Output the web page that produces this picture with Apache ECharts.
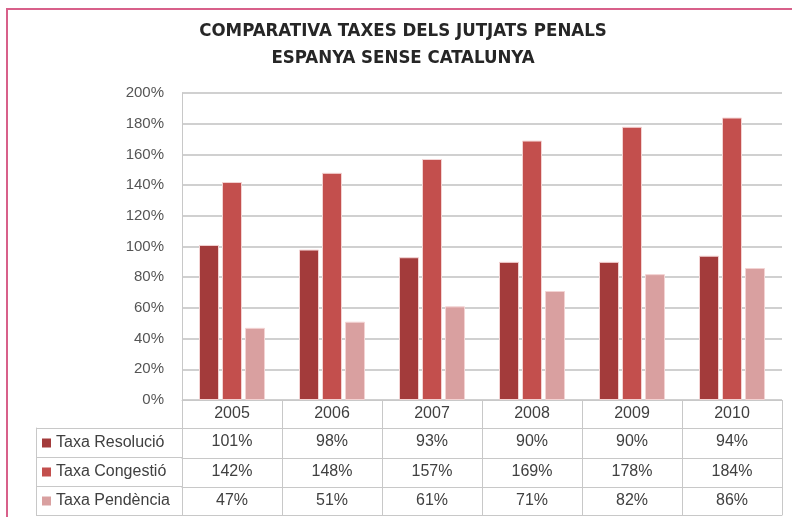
<!DOCTYPE html>
<html>
<head>
<meta charset="utf-8">
<script src="https://cdn.jsdelivr.net/npm/echarts@6/dist/echarts.min.js"></script>
<style>
  html, body { margin: 0; padding: 0; background: #fff; }
  #frame { position: absolute; left: 6px; top: 8px; width: 786px; height: 509px;
           border-top: 2px solid #d8608a; border-left: 2px solid #d8608a; box-sizing: border-box; }
  #chart { position: absolute; left: 0; top: 0; width: 792px; height: 517px; }
</style>
</head>
<body>
<div id="frame"></div>
<div id="chart"></div>
<script>
var years = ['2005', '2006', '2007', '2008', '2009', '2010'];
var seriesNames = ['Taxa Resolució', 'Taxa Congestió', 'Taxa Pendència'];
var resolucio = [101, 98, 93, 90, 90, 94];
var congestio = [142, 148, 157, 169, 178, 184];
var pendencia = [47, 51, 61, 71, 82, 86];
var colors = ['#a33b3b', '#c34f4d', '#d9a0a0'];

var font = 'Liberation Sans';
var gridCol = '#c8c8c8';
var textCol = '#404040';

var chart = echarts.init(document.getElementById('chart'));

function pct(list) {
    return list.map(function(v) { return v + '%'; });
}

// table rows under the chart, one category axis per row
function rowAxis(offset, data, tickLen, showLabel) {
    return {
        type: 'category',
        gridIndex: 0,
        position: 'bottom',
        offset: offset,
        data: data,
        axisLine: {show: true, lineStyle: {color: gridCol, width: 1}},
        axisTick: {show: tickLen > 0, length: tickLen, lineStyle: {color: gridCol}},
        axisLabel: {show: showLabel, fontFamily: font, fontSize: 16, color: textCol,
                    verticalAlign: 'middle', margin: 14},
        splitLine: {show: false}
    };
}

var option = {
    animation: false,
    title: {
        text: 'COMPARATIVA TAXES DELS JUTJATS PENALS\nESPANYA SENSE CATALUNYA',
        left: 403,
        textAlign: 'center',
        top: 18,
        padding: 0,
        textStyle: {fontFamily: 'Liberation Sans Narrow, DejaVu Sans Condensed, sans-serif',
                    fontWeight: 'bold', fontSize: 18.5, lineHeight: 27, color: '#262626'}
    },
    legend: {
        orient: 'vertical',
        left: 42,
        top: 435,
        padding: 0,
        itemWidth: 9,
        itemHeight: 9,
        itemGap: 13,
        icon: 'rect',
        selectedMode: false,
        itemStyle: {borderWidth: 0},
        textStyle: {fontFamily: font, fontSize: 16, lineHeight: 16, color: textCol},
        data: seriesNames
    },
    grid: [
        {left: 182, right: 10, top: 93, bottom: 117},
        {left: 36, width: 146, top: 428, height: 87}
    ],
    xAxis: [
        rowAxis(0, years, 28, true),
        rowAxis(28, pct(resolucio), 30, true),
        rowAxis(58, pct(congestio), 29, true),
        rowAxis(87, pct(pendencia), 28, true),
        rowAxis(115, years, 0, false),
        {type: 'value', gridIndex: 1, show: false, min: 0, max: 1}
    ],
    yAxis: [
        {
            type: 'value',
            min: 0,
            max: 200,
            interval: 20,
            axisLine: {show: true, lineStyle: {color: gridCol}},
            axisTick: {show: false},
            axisLabel: {fontFamily: font, fontSize: 15, color: '#555', margin: 18,
                        formatter: '{value}%'},
            splitLine: {lineStyle: {color: '#d0d0d0', width: 2}}
        },
        {
            type: 'category',
            gridIndex: 1,
            inverse: true,
            data: seriesNames,
            axisLine: {show: true, lineStyle: {color: gridCol}},
            axisTick: {show: false},
            axisLabel: {show: false},
            splitLine: {show: true, lineStyle: {color: gridCol}}
        }
    ],
    series: [
        {name: seriesNames[0], type: 'bar', data: resolucio, barWidth: 20, barGap: '15%',
         itemStyle: {color: colors[0], borderColor: '#f3d3d3', borderWidth: 1}},
        {name: seriesNames[1], type: 'bar', data: congestio, barWidth: 20, barGap: '15%',
         itemStyle: {color: colors[1], borderColor: '#f3d3d3', borderWidth: 1}},
        {name: seriesNames[2], type: 'bar', data: pendencia, barWidth: 20, barGap: '15%',
         itemStyle: {color: colors[2], borderColor: '#f3d3d3', borderWidth: 1}}
    ]
};

chart.setOption(option);
</script>
</body>
</html>
